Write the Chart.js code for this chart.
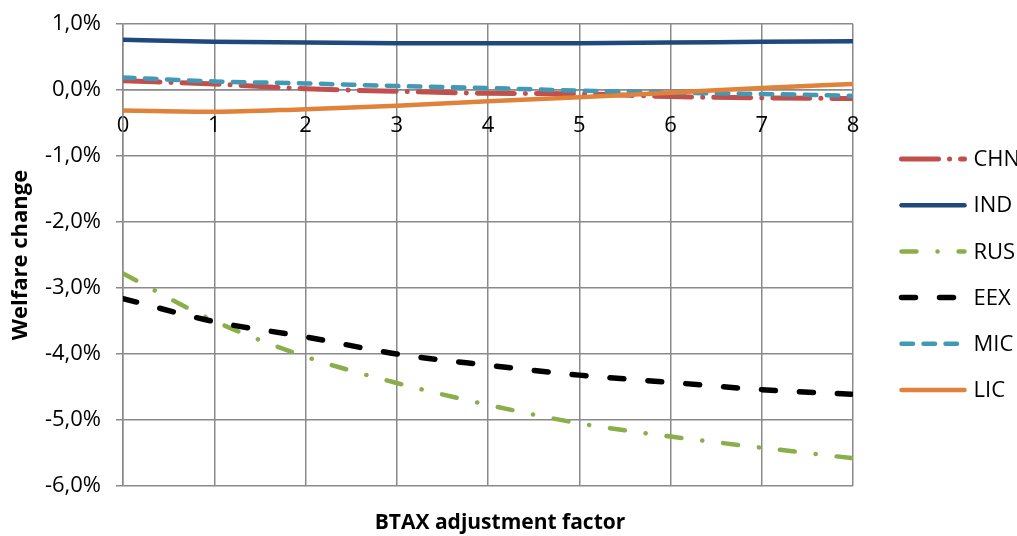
<!DOCTYPE html>
<html><head><meta charset="utf-8">
<script src="https://cdn.jsdelivr.net/npm/chart.js@4/dist/chart.umd.min.js"></script>
<style>html,body{margin:0;padding:0;background:#fff;overflow:hidden}#wrap{width:1017px;height:536px;position:relative}</style>
</head><body><div id="wrap"><canvas id="c"></canvas></div>
<script>
// ---- data (welfare change, %) ----
const factors = [0, 1, 2, 3, 4, 5, 6, 7, 8];
const CHN = [0.14, 0.09, 0.02, -0.02, -0.05, -0.06, -0.10, -0.12, -0.13];
const IND = [0.76, 0.73, 0.72, 0.71, 0.71, 0.71, 0.72, 0.73, 0.74];
const RUS = [-2.78, -3.50, -4.04, -4.44, -4.77, -5.05, -5.25, -5.42, -5.58];
const EEX = [-3.16, -3.51, -3.74, -4.00, -4.17, -4.32, -4.43, -4.54, -4.61];
const MIC = [0.19, 0.13, 0.10, 0.06, 0.03, -0.01, -0.04, -0.06, -0.09];
const LIC = [-0.31, -0.33, -0.29, -0.24, -0.17, -0.11, -0.04, 0.03, 0.09];
const seriesNames = ['CHN', 'IND', 'RUS', 'EEX', 'MIC', 'LIC'];
const yTicks = [1, 0, -1, -2, -3, -4, -5, -6];
const xTitle = 'BTAX adjustment factor';
const yTitle = 'Welfare change';

const seriesValues = { CHN, IND, RUS, EEX, MIC, LIC };
const styles = {
  CHN: { color: '#C0504D', width: 5, dash: [37, 11, 0.1, 11] },
  IND: { color: '#1F497D', width: 4.5, dash: [] },
  RUS: { color: '#8AAE4A', width: 4.5, dash: [15, 21, 0.1, 21] },
  EEX: { color: '#000000', width: 5.5, dash: [14, 24] },
  MIC: { color: '#4299B5', width: 4.5, dash: [11.5, 10.5] },
  LIC: { color: '#E0823A', width: 4.5, dash: [] }
};

const datasets = seriesNames.map((name, i) => ({
  label: name,
  data: factors.map((f, k) => ({ x: f, y: seriesValues[name][k] })),
  borderColor: styles[name].color,
  backgroundColor: styles[name].color,
  borderWidth: styles[name].width,
  borderDash: styles[name].dash,
  borderCapStyle: 'round',
  borderJoinStyle: 'round',
  pointRadius: 0,
  cubicInterpolationMode: 'monotone',
  fill: false,
  order: seriesNames.length - i
}));

const gridColor = '#8a8a8a';
const tickFont = { family: 'Open Sans', size: 22 };

const sideLegend = {
  id: 'sideLegend',
  afterDraw(chart) {
    const { ctx, chartArea } = chart;
    ctx.save();
    chart.data.datasets.forEach((ds, i) => {
      const y = chartArea.top + 135 + i * 46.2;
      const x0 = chartArea.right + 48.5;
      ctx.beginPath();
      ctx.strokeStyle = ds.borderColor;
      ctx.lineWidth = ds.borderWidth;
      ctx.lineCap = 'round';
      ctx.setLineDash(ds.borderDash || []);
      ctx.moveTo(x0, y);
      ctx.lineTo(x0 + 63, y);
      ctx.stroke();
      ctx.setLineDash([]);
      ctx.fillStyle = '#000';
      ctx.font = '22px "Open Sans"';
      ctx.textBaseline = 'middle';
      ctx.textAlign = 'left';
      ctx.fillText(ds.label, x0 + 72, y + 1);
    });
    ctx.restore();
  }
};

new Chart(document.getElementById('c'), {
  type: 'line',
  data: { datasets },
  plugins: [sideLegend],
  options: {
    responsive: true,
    maintainAspectRatio: false,
    animation: false,
    devicePixelRatio: 1,
    layout: { padding: { top: 24, right: 17, bottom: 0, left: 0 } },
    plugins: {
      legend: { display: false },
      tooltip: { enabled: false },
      title: {
        display: true, position: 'bottom', text: xTitle, color: '#000',
        font: { family: 'Open Sans', size: 21, weight: 'bold' },
        padding: { top: 24, bottom: 0.8 }
      }
    },
    scales: {
      x: {
        type: 'linear', min: 0, max: 8, position: { y: 0 },
        afterBuildTicks: s => { s.ticks = factors.map(v => ({ value: v })); },
        ticks: { font: tickFont, color: '#000', padding: 23, maxRotation: 0 },
        grid: { color: gridColor, lineWidth: 1.5, drawTicks: false },
        border: { color: gridColor, width: 1.5 }
      },
      y: {
        type: 'linear', min: -6, max: 1, position: 'left',
        afterBuildTicks: s => { s.ticks = yTicks.map(v => ({ value: v })); },
        ticks: {
          font: tickFont, color: '#000', padding: 15,
          callback: v => v.toFixed(1).replace('.', ',') + '%'
        },
        grid: { color: gridColor, lineWidth: 1.5, tickLength: 7, tickColor: gridColor },
        border: { color: gridColor, width: 1.5 },
        title: {
          display: true, text: yTitle, color: '#000',
          font: { family: 'Open Sans', size: 22, weight: 'bold' },
          padding: { top: 8, bottom: 0 }
        },
        afterFit: s => { s.width = 123; s.paddingTop = 13; s.paddingBottom = 13; }
      },
      y2: {
        type: 'linear', position: 'right', display: true, min: 0, max: 1,
        ticks: { display: false },
        grid: { display: false, drawTicks: false },
        border: { display: false },
        afterFit: s => { s.width = 147; s.paddingTop = 0; s.paddingBottom = 0; }
      }
    }
  }
});
</script>
</body></html>
